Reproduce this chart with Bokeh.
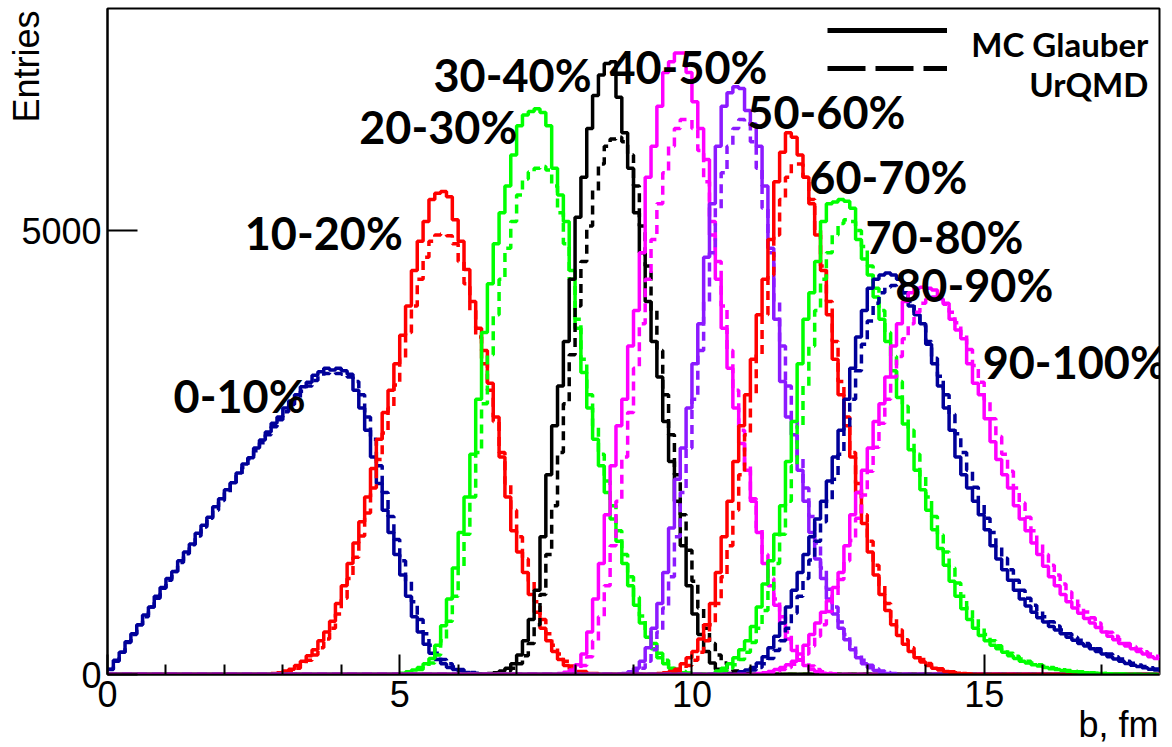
import math
from bokeh.plotting import figure
from bokeh.models import Range1d, FixedTicker, Label, Legend, LegendItem
from bokeh.embed import file_html
from bokeh.resources import INLINE

# ---------------- data (b histograms, 0.1 fm bins from 0 to 18 fm) ----------------
n_bins = 180
bin_width = 0.1

classes = ["0-10%", "10-20%", "20-30%", "30-40%", "40-50%",
           "50-60%", "60-70%", "70-80%", "80-90%", "90-100%"]
legend_names = ["MC Glauber", "UrQMD"]
x_title = "b, fm"
y_title = "Entries"

# first filled bin index of each class (solid = MC Glauber, dashed = UrQMD)
glauber_start = [0, 28, 49, 65, 77, 88, 94, 104, 108, 111]
urqmd_start = [0, 28, 49, 66, 78, 89, 94, 104, 109, 112]

glauber_0_10 = [60, 160, 250, 370, 460, 560, 670, 760, 880, 980, 1080, 1160, 1280, 1380, 1470, 1590,
                1680, 1770, 1890, 1980, 2080, 2160, 2270, 2370, 2440, 2550, 2640, 2730, 2830, 2900,
                3000, 3080, 3150, 3240, 3290, 3370, 3410, 3450, 3430, 3450, 3420, 3380, 3200, 3000,
                2750, 2450, 2150, 1850, 1600, 1350, 1120, 880, 650, 480, 340, 240, 170, 120, 80, 55,
                35, 22, 14, 8, 5]
urqmd_0_10 = [55, 150, 250, 360, 450, 560, 650, 760, 860, 970, 1060, 1160, 1260, 1360, 1460, 1560,
              1660, 1760, 1850, 1960, 2050, 2150, 2240, 2330, 2430, 2520, 2610, 2700, 2790, 2870,
              2960, 3040, 3110, 3190, 3250, 3310, 3360, 3390, 3400, 3390, 3380, 3350, 3300, 3150,
              2900, 2650, 2350, 2050, 1780, 1520, 1280, 1050, 820, 620, 460, 330, 240, 170, 120, 85,
              55, 35, 22, 14, 8, 4]

glauber_10_20 = [10, 20, 40, 60, 100, 150, 210, 280, 380, 480, 600, 800, 1000, 1250, 1480, 1720,
                 2000, 2320, 2650, 2950, 3200, 3500, 3820, 4150, 4550, 4880, 5100, 5350, 5420, 5440,
                 5380, 5120, 4880, 4560, 4200, 3900, 3650, 3280, 2900, 2450, 2000, 1620, 1380, 1150,
                 900, 700, 520, 380, 260, 170, 100, 60, 35, 20, 10, 5]
urqmd_10_20 = [5, 10, 25, 40, 70, 110, 160, 220, 300, 400, 520, 680, 860, 1080, 1320, 1560, 1820,
               2100, 2420, 2720, 3000, 3260, 3550, 3850, 4150, 4450, 4700, 4880, 4950, 4960, 4940,
               4850, 4650, 4400, 4100, 3800, 3500, 3200, 2850, 2500, 2150, 1850, 1550, 1300, 1050,
               820, 620, 460, 330, 230, 150, 95, 60, 35, 20, 10]

glauber_20_30 = [5, 15, 30, 50, 80, 120, 180, 330, 550, 850, 1200, 1600, 2000, 2480, 3100, 3850,
                 4400, 4850, 5200, 5500, 5850, 6180, 6300, 6340, 6370, 6330, 6180, 5700, 5400, 5100,
                 4550, 3900, 3400, 3000, 2650, 2350, 2050, 1750, 1500, 1250, 1000, 780, 580, 420,
                 290, 190, 120, 70, 40, 20, 10]
urqmd_20_30 = [5, 10, 20, 35, 55, 85, 130, 220, 380, 600, 880, 1200, 1580, 2000, 2500, 3050, 3600,
               4050, 4450, 4800, 5100, 5400, 5580, 5660, 5700, 5720, 5680, 5500, 5200, 4850, 4450,
               4000, 3550, 3150, 2800, 2480, 2180, 1900, 1620, 1350, 1100, 870, 660, 490, 350, 240,
               160, 100, 60, 35, 18, 8]

glauber_30_40 = [10, 20, 40, 70, 120, 220, 380, 620, 950, 1550, 2250, 2800, 3250, 3750, 4450, 5150,
                 5600, 6150, 6520, 6750, 6880, 6900, 6500, 6100, 5700, 5200, 4750, 4200, 3750, 3350,
                 2850, 2400, 1950, 1450, 1000, 680, 450, 260, 130, 60, 25, 10]
urqmd_30_40 = [10, 20, 40, 70, 120, 210, 350, 560, 900, 1350, 1900, 2500, 3050, 3600, 4150, 4650,
               5050, 5450, 5750, 5950, 6030, 6050, 6000, 5850, 5500, 5050, 4600, 4100, 3650, 3150,
               2700, 2250, 1800, 1400, 1050, 750, 520, 350, 220, 130, 75, 40, 20, 10]

glauber_40_50 = [10, 25, 50, 110, 230, 480, 850, 1250, 1800, 2350, 2800, 3100, 3700, 4100, 4750,
                 5600, 5950, 6400, 6780, 6900, 7000, 7000, 6780, 6450, 6150, 5800, 4950, 4450, 3900,
                 3450, 3000, 2600, 2300, 1950, 1600, 1250, 1000, 780, 580, 400, 270, 160, 100, 55,
                 30, 15, 8]
urqmd_40_50 = [10, 25, 50, 100, 200, 380, 650, 1000, 1450, 1950, 2450, 2950, 3450, 3950, 4450, 4900,
               5300, 5650, 5950, 6150, 6250, 6250, 6150, 5900, 5550, 5100, 4650, 4150, 3650, 3200,
               2750, 2350, 1980, 1650, 1350, 1080, 850, 650, 480, 340, 230, 150, 95, 55, 30, 15, 8]

glauber_50_60 = [10, 30, 70, 150, 300, 520, 800, 1150, 1650, 2200, 2550, 3000, 3500, 3950, 4700,
                 5300, 5950, 6400, 6550, 6620, 6600, 6350, 6200, 5950, 5500, 4800, 4000, 3300, 2900,
                 2700, 2300, 1950, 1600, 1300, 1080, 850, 680, 520, 390, 280, 190, 120, 75, 45, 25, 12]
urqmd_50_60 = [10, 30, 70, 150, 280, 480, 750, 1100, 1550, 2050, 2550, 3100, 3650, 4200, 4750, 5250,
               5650, 5950, 6150, 6250, 6200, 6000, 5700, 5250, 4750, 4200, 3700, 3250, 2850, 2450,
               2100, 1780, 1480, 1200, 960, 760, 590, 450, 330, 230, 160, 105, 65, 40, 22, 10]

glauber_60_70 = [10, 20, 35, 60, 120, 190, 260, 400, 560, 800, 1150, 1550, 1950, 2400, 2800, 3150,
                 3550, 4050, 4450, 4900, 5550, 5880, 6100, 6050, 5850, 5600, 5300, 4950, 4550, 4050,
                 3550, 3150, 2800, 2450, 2050, 1700, 1380, 1120, 900, 720, 560, 440, 340, 260, 190,
                 140, 100, 70, 50, 35, 22, 14, 8, 5]
urqmd_60_70 = [5, 10, 20, 30, 60, 100, 160, 250, 380, 560, 800, 1100, 1450, 1850, 2250, 2700, 3150,
               3600, 4050, 4500, 4950, 5350, 5600, 5750, 5750, 5600, 5350, 5000, 4600, 4200, 3750,
               3300, 2900, 2500, 2150, 1800, 1500, 1230, 1000, 800, 640, 500, 390, 300, 230, 170,
               125, 90, 65, 45, 30, 20, 12, 7]

glauber_70_80 = [40, 70, 120, 190, 280, 380, 540, 760, 1020, 1280, 1580, 1900, 2400, 2850, 3500, 4000,
                 4300, 4650, 5100, 5300, 5320, 5350, 5330, 5250, 4900, 4680, 4500, 4250, 4000, 3750,
                 3420, 3120, 2820, 2530, 2300, 2080, 1850, 1630, 1420, 1230, 1050, 880, 740, 620, 520,
                 440, 380, 330, 290, 250, 210, 180, 150, 130, 110, 95, 80, 65, 55, 45, 38, 30, 25,
                 20, 16, 12, 10, 8, 6, 5, 4, 3]
urqmd_70_80 = [20, 40, 70, 110, 170, 250, 360, 520, 720, 960, 1250, 1580, 1950, 2350, 2800, 3250,
               3700, 4100, 4450, 4750, 4950, 5080, 5120, 5100, 5000, 4820, 4600, 4350, 4100, 3850,
               3580, 3300, 3020, 2750, 2480, 2230, 2000, 1780, 1570, 1380, 1200, 1030, 880, 750, 630,
               530, 450, 380, 325, 280, 240, 205, 175, 150, 128, 110, 92, 78, 65, 54, 45, 37, 30,
               24, 19, 15, 12, 9, 7, 5, 4, 3]

glauber_80_90 = [30, 50, 80, 130, 200, 300, 430, 580, 760, 950, 1150, 1350, 1550, 1750, 1950, 2180,
                 2450, 2750, 3100, 3450, 3800, 4100, 4350, 4450, 4500, 4520, 4500, 4450, 4300, 4150,
                 4050, 3950, 3720, 3500, 3250, 3000, 2750, 2450, 2250, 2100, 1950, 1800, 1630, 1450,
                 1300, 1180, 1060, 950, 850, 770, 700, 640, 590, 540, 500, 460, 420, 385, 350, 320,
                 290, 260, 230, 200, 175, 150, 125, 105, 90, 75, 60, 50]
urqmd_80_90 = [30, 50, 80, 120, 180, 270, 380, 520, 690, 880, 1080, 1290, 1500, 1720, 1950, 2200,
               2480, 2780, 3100, 3420, 3720, 3980, 4180, 4300, 4360, 4380, 4360, 4300, 4200, 4080,
               3930, 3750, 3560, 3360, 3150, 2930, 2710, 2500, 2300, 2110, 1930, 1760, 1600, 1450,
               1310, 1180, 1060, 950, 860, 780, 710, 650, 595, 545, 500, 460, 420, 385, 350, 320,
               290, 260, 230, 200, 175, 150, 128, 108, 90, 75, 62]

glauber_90_100 = [10, 20, 35, 55, 80, 110, 150, 230, 330, 450, 580, 700, 830, 980, 1150, 1450, 1800,
                  2050, 2300, 2550, 2850, 3050, 3350, 3700, 3950, 4200, 4300, 4350, 4360, 4350, 4330,
                  4230, 4180, 4000, 3880, 3780, 3500, 3280, 3150, 2880, 2620, 2420, 2250, 2100, 1900,
                  1750, 1620, 1480, 1350, 1220, 1100, 1000, 900, 820, 750, 690, 630, 580, 530, 480,
                  430, 390, 350, 320, 290, 260, 230, 200, 180]
urqmd_90_100 = [10, 20, 35, 55, 80, 115, 165, 230, 320, 430, 560, 710, 880, 1070, 1280, 1510, 1760,
                2020, 2290, 2560, 2830, 3100, 3350, 3580, 3780, 3950, 4080, 4180, 4230, 4250, 4230,
                4170, 4080, 3960, 3820, 3660, 3480, 3290, 3090, 2880, 2680, 2480, 2290, 2100, 1930,
                1770, 1620, 1480, 1350, 1230, 1120, 1020, 930, 850, 775, 705, 640, 580, 525, 475,
                430, 390, 350, 315, 285, 255, 230, 205]

glauber = [glauber_0_10, glauber_10_20, glauber_20_30, glauber_30_40, glauber_40_50,
           glauber_50_60, glauber_60_70, glauber_70_80, glauber_80_90, glauber_90_100]
urqmd = [urqmd_0_10, urqmd_10_20, urqmd_20_30, urqmd_30_40, urqmd_40_50,
         urqmd_50_60, urqmd_60_70, urqmd_70_80, urqmd_80_90, urqmd_90_100]

x_ticks = [0, 5, 10, 15]
x_minor_ticks = [1, 2, 3, 4, 6, 7, 8, 9, 11, 12, 13, 14, 16, 17]
y_ticks = [0, 5000]

# ---------------- styling / layout ----------------
colors = ["#000099", "#ff0000", "#00ff00", "#000000", "#ff00ff",
          "#8c1aff", "#ff0000", "#00ff00", "#000099", "#ff00ff"]

# label anchors (data coords: b, entries)
label_pos = [(2.26, 3132), (3.70, 4974), (5.66, 6164), (6.93, 6748), (9.94, 6838),
             (12.30, 6332), (13.36, 5603), (14.32, 4929), (14.83, 4390), (16.55, 3514)]
legend_text_pos = [(17.81, 7096), (17.81, 6647)]

# ROOT puts axis titles at the axis end: the centred Bokeh label is pushed there
# with leading no-break spaces (each 10 px wide at 36px)
NBSP = "\u00a0"
x_pad = 97
y_pad = 55

W, H = 1172, 747
p = figure(width=W, height=H, output_backend="svg", toolbar_location=None,
           x_range=Range1d(0, 18), y_range=Range1d(0, 7500),
           min_border_left=107, min_border_right=13, min_border_top=8, min_border_bottom=71)
p.background_fill_color = "white"
p.border_fill_color = "white"
p.outline_line_color = "black"
p.outline_line_width = 2
p.xgrid.visible = False
p.ygrid.visible = False

edges = [i * bin_width for i in range(n_bins + 1)]


def full_hist(start, vals):
    h = [0] * n_bins
    for i, v in enumerate(vals):
        h[start + i] = v
    return h + [h[-1]]


for k in range(len(classes)):
    p.step(x=edges, y=full_hist(glauber_start[k], glauber[k]), mode="after",
           line_color=colors[k], line_width=3.5)
    p.step(x=edges, y=full_hist(urqmd_start[k], urqmd[k]), mode="after",
           line_color=colors[k], line_width=3.5, line_dash="9 6")

# axes
for ax in p.xaxis:
    ax.ticker = FixedTicker(ticks=x_ticks, minor_ticks=x_minor_ticks)
    ax.major_tick_in = 20
    ax.major_tick_out = 0
    ax.minor_tick_in = 10
    ax.minor_tick_out = 0
    ax.axis_line_width = 2
    ax.major_tick_line_width = 2
    ax.minor_tick_line_width = 2
    ax.major_label_text_font = "Liberation Sans"
    ax.major_label_text_font_size = "36px"
    ax.major_label_text_color = "black"
    ax.major_label_standoff = 6
    ax.axis_label = NBSP * x_pad + x_title
    ax.axis_label_text_font = "Liberation Sans"
    ax.axis_label_text_font_size = "36px"
    ax.axis_label_text_font_style = "normal"
    ax.axis_label_text_color = "black"
    ax.axis_label_standoff = -6
for ax in p.yaxis:
    ax.ticker = FixedTicker(ticks=y_ticks, minor_ticks=[])
    ax.major_tick_in = 30
    ax.major_tick_out = 0
    ax.minor_tick_line_color = None
    ax.axis_line_width = 2
    ax.major_tick_line_width = 2
    ax.major_label_text_font = "Liberation Sans"
    ax.major_label_text_font_size = "36px"
    ax.major_label_text_color = "black"
    ax.major_label_standoff = 6
    ax.axis_label = NBSP * y_pad + y_title
    ax.axis_label_text_font = "Liberation Sans"
    ax.axis_label_text_font_size = "36px"
    ax.axis_label_text_font_style = "normal"
    ax.axis_label_text_color = "black"
    ax.axis_label_standoff = -29

# class labels
for name, (lx, ly) in zip(classes, label_pos):
    p.add_layout(Label(x=lx, y=ly, text=name, text_align="center", text_baseline="alphabetic",
                       text_font="Lato", text_font_style="bold", text_font_size="45px",
                       text_color="black"))

# legend: line samples from a Legend, right-aligned texts as labels
nan = float("nan")
r_solid = p.line(x=[nan], y=[nan], line_color="black", line_width=5)
r_dash = p.line(x=[nan], y=[nan], line_color="black", line_width=5, line_dash="38 10")
legend = Legend(items=[LegendItem(label=" ", renderers=[r_solid]),
                       LegendItem(label=" ", renderers=[r_dash])],
                location=(720, 587), glyph_width=120, glyph_height=38, label_height=38,
                label_standoff=0, spacing=0, padding=0, margin=0,
                border_line_alpha=0, background_fill_alpha=0,
                label_text_font="Lato", label_text_font_size="10px")
p.add_layout(legend)
for name, (lx, ly) in zip(legend_names, legend_text_pos):
    p.add_layout(Label(x=lx, y=ly, text=name, text_align="right", text_baseline="alphabetic",
                       text_font="Lato", text_font_style="bold", text_font_size="33px",
                       text_color="black"))

open("out.html", "w").write(file_html(p, INLINE))
